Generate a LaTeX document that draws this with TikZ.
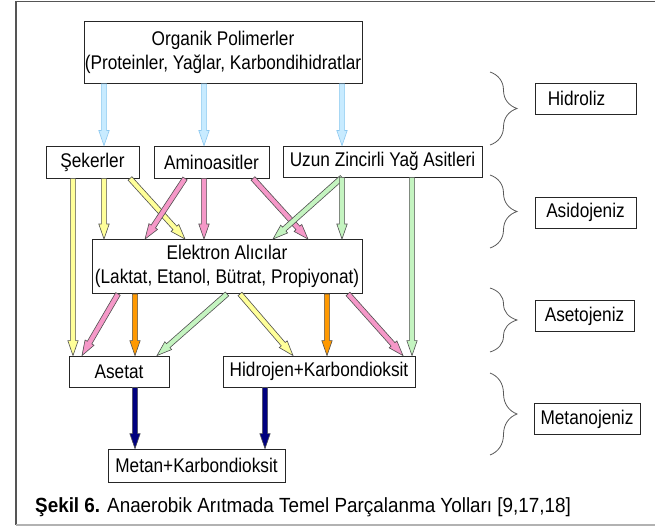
\documentclass[tikz,border=0pt]{standalone}
\usepackage{fontspec}
\setmainfont{Liberation Sans}[FakeStretch=0.87]
\newfontfamily\capfont{Liberation Sans}[FakeStretch=0.92]
\usetikzlibrary{calc,decorations.pathreplacing}

\definecolor{hydfill}{HTML}{C8EBFF}
\definecolor{hydline}{HTML}{8CC8F0}
\definecolor{sugfill}{HTML}{FFFF99}
\definecolor{amifill}{HTML}{F598C8}
\definecolor{fatfill}{HTML}{C4F4C0}
\definecolor{orgfill}{HTML}{FF9900}
\definecolor{metfill}{HTML}{00007F}
\definecolor{arrline}{HTML}{505050}
\definecolor{framegray}{HTML}{555555}

% block arrow: style, start, end
\newcommand{\flowarrow}[3]{%
  \coordinate (fa-s) at #2;
  \coordinate (fa-e) at #3;
  \coordinate (fa-h) at ($(fa-e)!15pt!(fa-s)$);
  \filldraw[flow,#1]
    ($(fa-s)!2.6pt!90:(fa-e)$) -- ($(fa-h)!2.6pt!90:(fa-e)$) --
    ($(fa-h)!5.2pt!90:(fa-e)$) -- (fa-e) -- ($(fa-h)!5.2pt!-90:(fa-e)$) --
    ($(fa-h)!2.6pt!-90:(fa-e)$) -- ($(fa-s)!2.6pt!-90:(fa-e)$) -- cycle;
}

\tikzset{
  box/.style={draw=black!85, line width=0.9pt, inner sep=0pt, align=center,
    font=\fontsize{19.8}{23.5}\selectfont},
  flow/.style={line width=0.6pt, line join=miter, draw=arrline},
  hyd/.style={fill=hydfill, draw=hydline},
  sug/.style={fill=sugfill},
  ami/.style={fill=amifill},
  fat/.style={fill=fatfill},
  acc/.style={fill=orgfill},
  met/.style={fill=metfill},
  phase/.style={draw=black!85, line width=0.9pt, inner sep=0pt,
    minimum width=101pt, minimum height=31pt, font=\fontsize{19.8}{23.5}\selectfont},
  curly/.style={draw=black!65, line width=0.8pt,
    decorate, decoration={brace, amplitude=27pt}},
}

\begin{document}
\begin{tikzpicture}[x=1pt, y=-1pt]
\useasboundingbox (0,0) rectangle (655,526);

% frame
\draw[framegray, line width=1.5pt] (655,1.5) -- (16,1.5) -- (16,525);
\draw[black!30, line width=1.5pt] (16,525) -- (655,525);

% substances
\node[box, minimum width=278pt, minimum height=62pt] (org) at (223,52.5)
  {Organik Polimerler\\(Proteinler, Yağlar, Karbondihidratlar};
\node[box, minimum width=93pt, minimum height=32pt] (sek) at (92.5,162) {Şekerler};
\node[box, minimum width=115pt, minimum height=32pt] (ami) at (211.5,162) {Aminoasitler};
\node[box, minimum width=199pt, minimum height=31pt] (uzn) at (382.5,161.5) {Uzun Zincirli Yağ Asitleri};
\node[box, minimum width=270pt, minimum height=54pt] (elk) at (227,266.5)
  {Elektron Alıcılar\\(Laktat, Etanol, Bütrat, Propiyonat)};
\node[box, minimum width=100pt, minimum height=31pt] (ase) at (119,371.5) {Asetat};
\node[box, minimum width=192pt, minimum height=31pt] (hid) at (319,371.5) {Hidrojen+Karbondioksit};
\node[box, minimum width=177pt, minimum height=33pt] (met) at (196.5,465.5) {Metan+Karbondioksit};

% phases
\node[phase] (p1) at (585.5,98.5) {Hidroliz\kern18pt};
\node[phase] (p2) at (585.5,212.5) {Asidojeniz};
\node[phase, minimum width=99pt] (p3) at (584.5,316) {Asetojeniz};
\node[phase, minimum width=106pt] (p4) at (587,419) {Metanojeniz};

\draw[curly] (490,72) -- (490,145);
\draw[curly] (490,175) -- (490,248);
\draw[curly] (490,288) -- (490,352);
\draw[curly] (490,373) -- (490,455);

% hydrolysis
\flowarrow{hyd}{(org.south -| 104,0)}{(sek.north -| 104,0)}
\flowarrow{hyd}{(org.south -| 204,0)}{(ami.north -| 204,0)}
\flowarrow{hyd}{(org.south -| 342,0)}{(uzn.north -| 342,0)}

% acidogenesis
\flowarrow{sug}{(sek.south -| 73,0)}{(ase.north -| 73,0)}
\flowarrow{sug}{(sek.south -| 104,0)}{(elk.north -| 104,0)}
\flowarrow{sug}{(sek.south -| 130,0)}{(elk.north -| 185,0)}
\flowarrow{ami}{(ami.south -| 185,0)}{(elk.north -| 145,0)}
\flowarrow{ami}{(ami.south -| 204,0)}{(elk.north -| 204,0)}
\flowarrow{ami}{(ami.south -| 253,0)}{(elk.north -| 308,0)}
\flowarrow{fat}{(uzn.south -| 342,0)}{(elk.north -| 273,0)}
\flowarrow{fat}{(uzn.south -| 342,0)}{(elk.north -| 342,0)}
\flowarrow{fat}{(uzn.south -| 412,0)}{(hid.north -| 412,0)}

% acetogenesis
\flowarrow{ami}{(elk.south -| 118,0)}{(ase.north -| 82,0)}
\flowarrow{acc}{(elk.south -| 135,0)}{(ase.north -| 135,0)}
\flowarrow{fat}{(elk.south -| 227,0)}{(ase.north -| 157,0)}
\flowarrow{sug}{(elk.south -| 240,0)}{(hid.north -| 293,0)}
\flowarrow{acc}{(elk.south -| 327,0)}{(hid.north -| 327,0)}
\flowarrow{ami}{(elk.south -| 348,0)}{(hid.north -| 403,0)}

% methanogenesis
\flowarrow{met}{(ase.south -| 135,0)}{(met.north -| 135,0)}
\flowarrow{met}{(hid.south -| 265,0)}{(met.north -| 265,0)}

% caption
\node[anchor=base west, inner sep=0pt, font=\capfont\fontsize{20.5}{24}\selectfont] (cap) at (35,512)
  {\textbf{Şekil 6.} Anaerobik Arıtmada Temel Parçalanma Yolları [9,17,18]};
\end{tikzpicture}
\end{document}
